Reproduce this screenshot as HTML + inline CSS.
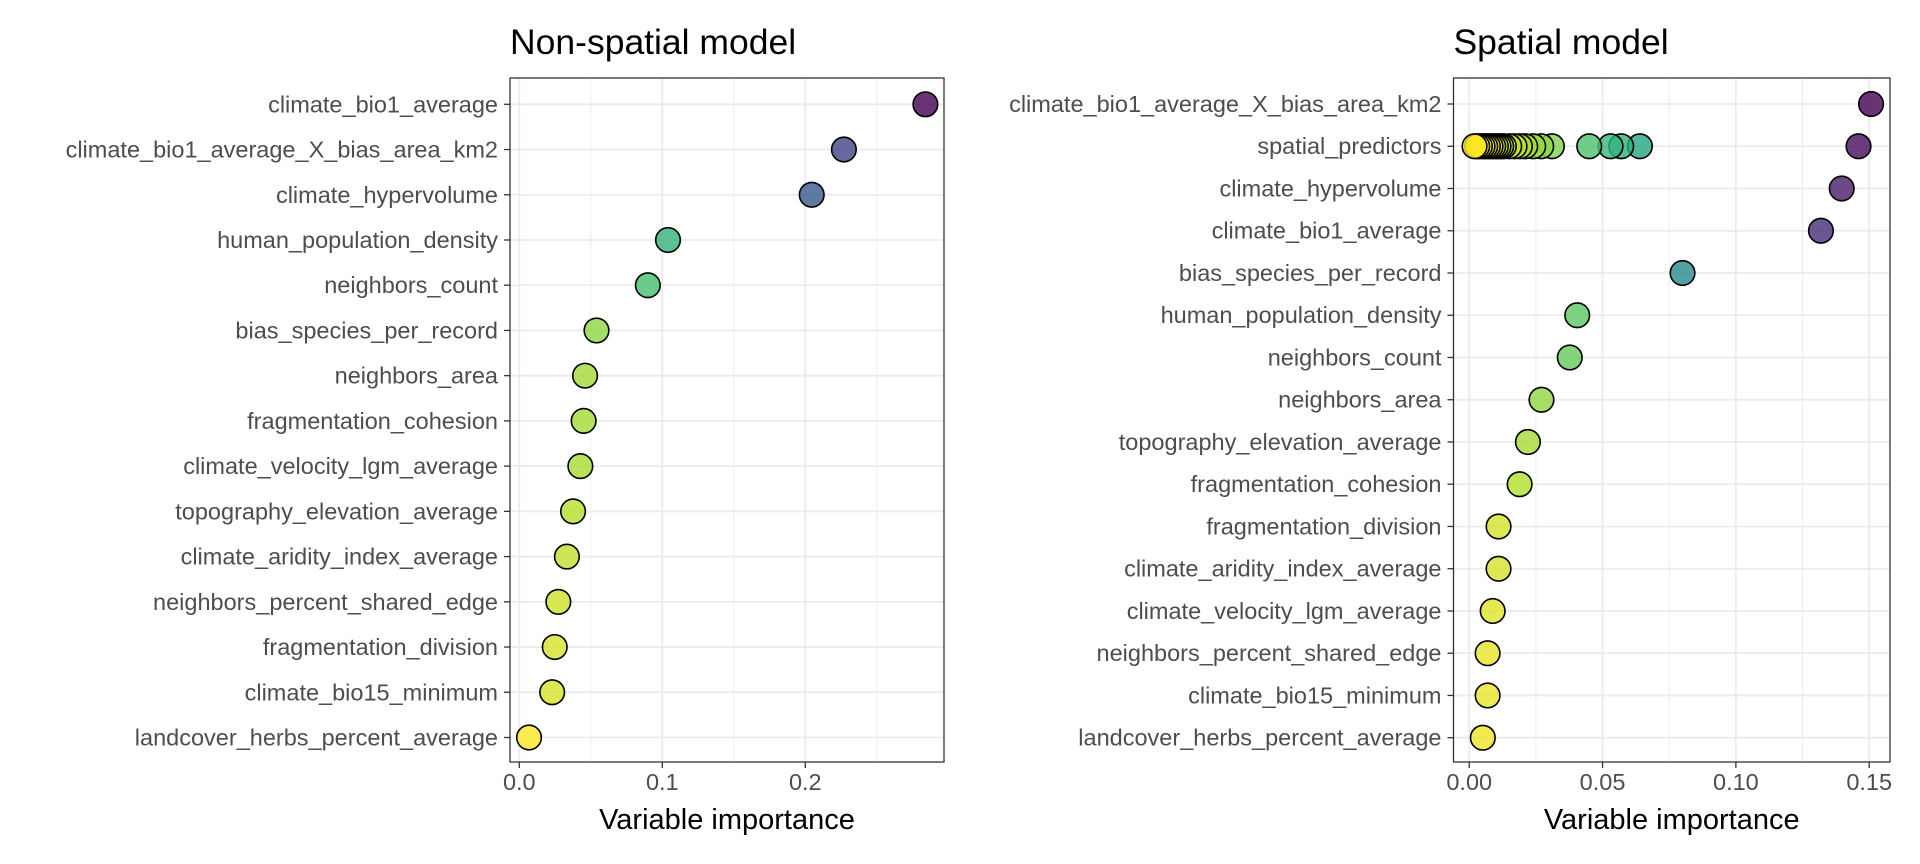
<!DOCTYPE html>
<html><head><meta charset="utf-8"><style>
body{margin:0;background:#fff;}
svg{display:block;font-family:"Liberation Sans",Arial,sans-serif;}
</style></head><body>
<svg id="chart" width="1920" height="864" xmlns="http://www.w3.org/2000/svg"></svg>
<script>
// Non-spatial model data
const leftVars = ["climate_bio1_average","climate_bio1_average_X_bias_area_km2","climate_hypervolume","human_population_density","neighbors_count","bias_species_per_record","neighbors_area","fragmentation_cohesion","climate_velocity_lgm_average","topography_elevation_average","climate_aridity_index_average","neighbors_percent_shared_edge","fragmentation_division","climate_bio15_minimum","landcover_herbs_percent_average"];
const leftVals = [0.284,0.227,0.2045,0.104,0.0899,0.054,0.046,0.045,0.0427,0.0376,0.0333,0.0273,0.0248,0.023,0.0068];
const leftTicks = [0.0,0.1,0.2];
const leftTickLabels = ["0.0","0.1","0.2"];
// Spatial model data
const rightVars = ["climate_bio1_average_X_bias_area_km2","spatial_predictors","climate_hypervolume","climate_bio1_average","bias_species_per_record","human_population_density","neighbors_count","neighbors_area","topography_elevation_average","fragmentation_cohesion","fragmentation_division","climate_aridity_index_average","climate_velocity_lgm_average","neighbors_percent_shared_edge","climate_bio15_minimum","landcover_herbs_percent_average"];
const rightVals = [0.1507,0.146,0.1397,0.1319,0.080,0.0405,0.0377,0.0271,0.022,0.0189,0.011,0.011,0.0088,0.0069,0.0069,0.0051];
const spatialPredVals = [0.064,0.057,0.053,0.045,0.031,0.027,0.024,0.021,0.019,0.017,0.015,0.013,0.012,0.011,0.010,0.009,0.008,0.007,0.006,0.005,0.004,0.003,0.002];
const rightTicks = [0.00,0.05,0.10,0.15];
const rightTickLabels = ["0.00","0.05","0.10","0.15"];

const NS="http://www.w3.org/2000/svg";
const svg=document.getElementById('chart');
function mk(tag,attrs,parent){const e=document.createElementNS(NS,tag);for(const k in attrs)e.setAttribute(k,attrs[k]);(parent||svg).appendChild(e);return e;}
const vir=[[68,1,84],[72,40,120],[62,73,137],[49,104,142],[38,130,142],[31,158,137],[53,183,121],[110,206,88],[181,222,43],[253,231,37]];
function viridis(t){t=Math.max(0,Math.min(1,t));const p=t*(vir.length-1);const i=Math.min(Math.floor(p),vir.length-2);const f=p-i;const c=vir[i].map((v,k)=>Math.round(v+(vir[i+1][k]-v)*f));return `rgb(${c[0]},${c[1]},${c[2]})`;}

function panel(o){
  const g=mk('g',{});
  
  
  const x=v=>o.x0+(v-o.dmin)/(o.dmax-o.dmin)*(o.x1-o.x0);
  const n=o.vars.length;
  const y=i=>o.yFirst+i*(o.yLast-o.yFirst)/(n-1);
  for(let i=0;i<o.ticks.length;i++){
    const step=o.ticks[1]-o.ticks[0];
    const m=o.ticks[i]+step/2;
    if(x(m)<o.x1){mk('line',{x1:x(m),x2:x(m),y1:o.y0,y2:o.y1,stroke:'#ebebeb','stroke-width':0.9},g);}
  }
  for(let i=0;i<n;i++){const l=mk('line',{x1:o.x0,x2:o.x1,y1:y(i),y2:y(i),stroke:'#ebebeb','stroke-width':1.8},g);
    }
  o.ticks.forEach(t=>{mk('line',{x1:x(t),x2:x(t),y1:o.y0,y2:o.y1,stroke:'#ebebeb','stroke-width':1.8},g);});
  const vmax=Math.max(...o.vals), vmin=Math.min(...o.vals.concat(o.extra||[]));
  const col=v=>viridis(1-(v-vmin)/(vmax-vmin));
  if(o.extra){o.extra.forEach(v=>{const c=mk('circle',{cx:x(v),cy:y(o.extraRow),r:12.3,fill:col(v),'fill-opacity':0.8,stroke:'#000','stroke-width':1.6},g);
    });}
  o.vals.forEach((v,i)=>{const c=mk('circle',{cx:x(v),cy:y(i),r:12.3,fill:col(v),'fill-opacity':0.8,stroke:'#000','stroke-width':1.6},g);
    });
  const b=mk('rect',{x:o.x0,y:o.y0,width:o.x1-o.x0,height:o.y1-o.y0,fill:'none',stroke:'#333','stroke-width':1.3},g);
  
  o.vars.forEach((s,i)=>{mk('line',{x1:o.x0-6,x2:o.x0,y1:y(i),y2:y(i),stroke:'#333','stroke-width':1.3},g);
    const t=mk('text',{x:o.x0-12,y:y(i)+8,'text-anchor':'end','font-size':23.5,fill:'#4d4d4d'},g);t.textContent=s;
    });
  o.ticks.forEach((tv,i)=>{mk('line',{x1:x(tv),x2:x(tv),y1:o.y1,y2:o.y1+6,stroke:'#333','stroke-width':1.3},g);
    const t=mk('text',{x:x(tv),y:o.y1+28,'text-anchor':'middle','font-size':23.5,fill:'#4d4d4d'},g);t.textContent=o.tickLabels[i];
    });
  const xt=mk('text',{x:(o.x0+o.x1)/2,y:o.y1+67,'text-anchor':'middle','font-size':29,fill:'#000'},g);xt.textContent='Variable importance';
  
  const tt=mk('text',{x:o.x0,y:54,'font-size':35.5,fill:'#000'},g);tt.textContent=o.title;
  
}
panel({name:'non-spatial-panel',title:'Non-spatial model',vars:leftVars,vals:leftVals,ticks:leftTicks,tickLabels:leftTickLabels,
  x0:510,x1:944,y0:78,y1:762,dmin:-0.0065,dmax:0.297,yFirst:104.3,yLast:737.5});
panel({name:'spatial-panel',title:'Spatial model',vars:rightVars,vals:rightVals,ticks:rightTicks,tickLabels:rightTickLabels,
  x0:1453.5,x1:1890,y0:78,y1:762,dmin:-0.0059,dmax:0.1578,yFirst:104,yLast:737.7,extra:spatialPredVals,extraRow:1});
</script>
</body></html>
